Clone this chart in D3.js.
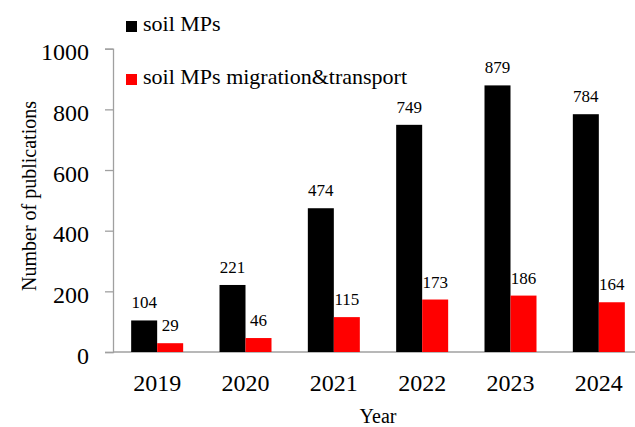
<!DOCTYPE html>
<html>
<head>
<meta charset="utf-8">
<script src="https://cdn.jsdelivr.net/npm/d3@7"></script>
<style>
body { margin: 0; background: #fff; }
</style>
</head>
<body>
<svg id="chart" width="635" height="427"></svg>
<script>
var years = ["2019", "2020", "2021", "2022", "2023", "2024"];
var seriesNames = ["soil MPs", "soil MPs migration&transport"];
var soilMPs = [104, 221, 474, 749, 879, 784];
var migration = [29, 46, 115, 173, 186, 164];
var yTicks = [0, 200, 400, 600, 800, 1000];
var colors = ["#000000", "#ff0000"];

var FONT = "'Times New Roman', 'Liberation Serif', Times, serif";

var svg = d3.select("#chart").style("font-family", FONT);

var x0 = d3.scaleBand().domain(years).range([113, 643]);
var x1 = d3.scaleBand().domain(seriesNames).range([-26, 26]);
var y = d3.scaleLinear().domain([0, 1000]).range([352, 48.7]);

// y axis
var yAxis = svg.append("g").attr("transform", "translate(113,0)")
	.call(d3.axisLeft(y).tickValues(yTicks).tickFormat(d3.format("d")).tickSize(8).tickPadding(16));
yAxis.attr("font-family", null).style("font-family", FONT);
yAxis.select(".domain").attr("stroke", "#a0a0a0").attr("stroke-width", 1.3);
yAxis.selectAll(".tick line").attr("stroke", "#a0a0a0").attr("stroke-width", 1.3);
yAxis.selectAll(".tick text").attr("font-size", 24).attr("dy", "11px")
	.style("font-family", FONT).attr("fill", "#000");

// x axis
var xAxis = svg.append("g").attr("transform", "translate(0,352)")
	.call(d3.axisBottom(x0).tickSize(0).tickPadding(0));
xAxis.attr("font-family", null).style("font-family", FONT);
xAxis.select(".domain").attr("d", "M113,0H635").attr("stroke", "#a0a0a0").attr("stroke-width", 1.3);
xAxis.selectAll(".tick text").attr("font-size", 24).attr("y", 39).attr("dy", 0)
	.style("font-family", FONT).attr("fill", "#000");

// bars
var series = [soilMPs, migration];
series.forEach(function(vals, s){
	var g = svg.append("g");
	years.forEach(function(yr, i){
		var cx = x0(yr) + x0.bandwidth() / 2 + x1(seriesNames[s]);
		g.append("rect")
			.attr("x", cx).attr("y", y(vals[i]))
			.attr("width", x1.bandwidth()).attr("height", y(0) - y(vals[i]))
			.attr("fill", colors[s]);
		g.append("text")
			.attr("x", cx + x1.bandwidth() / 2).attr("y", y(vals[i]) - 12)
			.attr("text-anchor", "middle").attr("font-size", 17)
			.style("font-family", FONT)
			.text(vals[i]);
	});
});

// legend
seriesNames.forEach(function(name, i){
	var ly = 21 + i * 53;
	svg.append("rect").attr("x", 126).attr("y", ly).attr("width", 11).attr("height", 11).attr("fill", colors[i]);
	svg.append("text").attr("x", 143).attr("y", ly + 10).attr("font-size", 22)
		.style("font-family", FONT).text(name);
});

// axis titles
svg.append("text").attr("transform", "translate(36,196) rotate(-90)")
	.attr("text-anchor", "middle").attr("font-size", 20).style("font-family", FONT)
	.text("Number of publications");
svg.append("text").attr("x", 378).attr("y", 423)
	.attr("text-anchor", "middle").attr("font-size", 20).style("font-family", FONT)
	.text("Year");
</script>
</body>
</html>
